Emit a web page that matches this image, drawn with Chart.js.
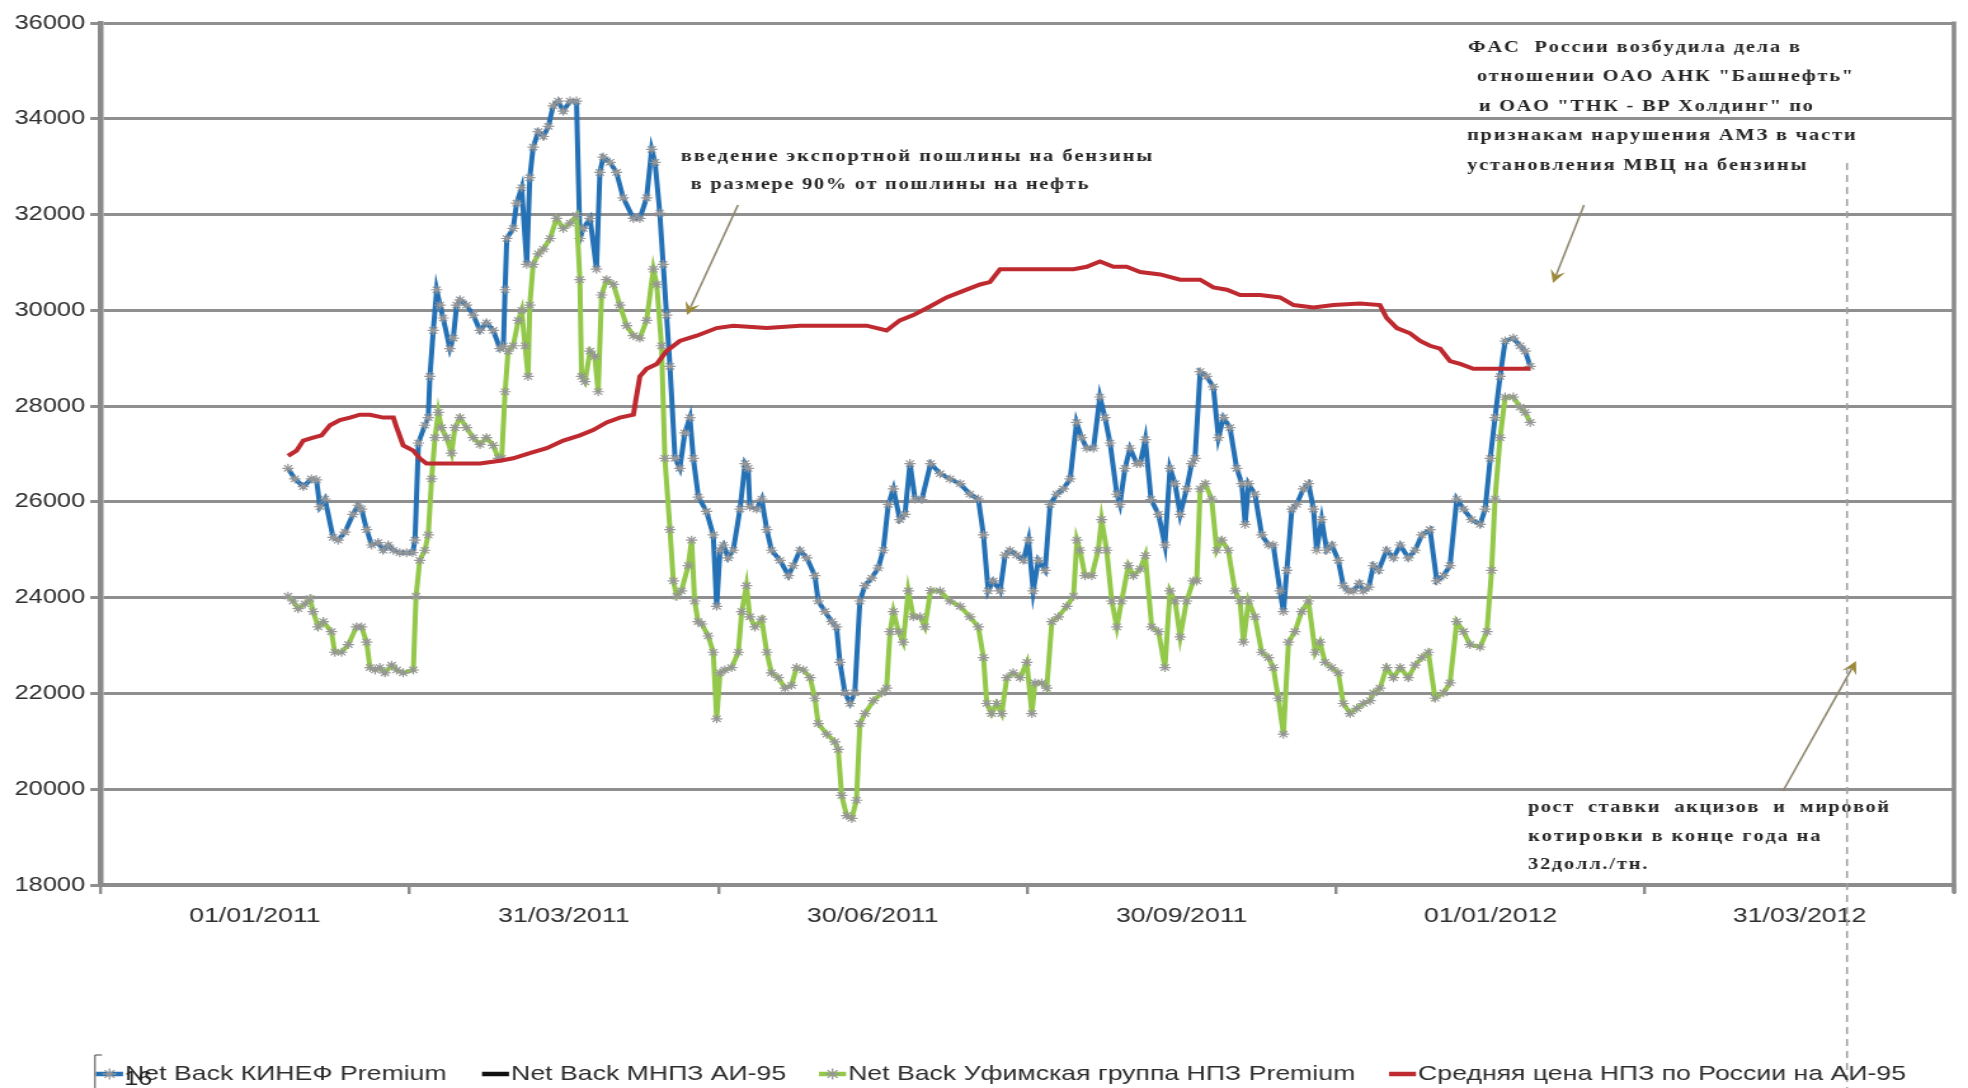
<!DOCTYPE html>
<html><head><meta charset="utf-8">
<script src="https://cdn.jsdelivr.net/npm/chart.js@4/dist/chart.umd.min.js"></script>
<style>html,body{margin:0;padding:0;background:#fff;overflow:hidden}</style>
</head><body>
<canvas id="c" width="1550" height="1088" style="display:block;width:1968px;height:1088px"></canvas>
<script>
// ---------- data ----------
const xLabels = ['01/01/2011','31/03/2011','30/06/2011','30/09/2011','01/01/2012','31/03/2012'];
const seriesNames = ['Net Back КИНЕФ Premium','Net Back МНПЗ АИ-95','Net Back Уфимская группа НПЗ Premium','Средняя цена НПЗ по России на АИ-95'];
const yMin = 18000, yMax = 36000, yStep = 2000;
// x = days since 01/01/2011
const kinefDays = [9.8,11.8,14.3,16.7,18.2,19.2,20.7,23.1,24.6,26.6,29.0,30.5,31.5,33.0,34.5,36.4,37.9,39.4,40.9,42.8,44.8,46.6,47.3,48.3,50.2,51.2,51.7,52.7,53.7,54.7,55.6,57.6,58.6,59.6,60.6,62.5,64.5,66.5,68.4,70.4,72.4,73.4,73.9,74.4,76.3,77.3,78.8,80.3,81.2,82.2,83.7,85.2,86.7,88.1,89.6,91.1,93.1,95.0,96.0,97.0,99.0,100.9,101.9,102.9,104.9,106.8,108.8,111.8,113.7,115.7,117.2,118.2,119.6,120.6,121.6,122.6,124.1,125.5,127.0,128.5,129.5,131.0,133.4,135.4,136.4,137.4,138.4,139.8,141.3,143.3,144.8,145.7,146.2,148.2,149.7,151.2,152.6,155.1,157.6,159.0,161.0,163.0,165.4,166.4,168.4,170.4,171.8,172.8,174.3,175.8,177.2,178.7,180.2,182.2,184.1,185.6,187.1,188.6,190.5,192.0,193.5,195.0,197.0,199.6,202.4,205.3,208.3,211.2,213.7,215.2,216.6,218.1,220.1,221.6,223.0,225.0,227.0,228.5,229.9,231.4,233.4,234.9,236.8,238.8,240.8,242.7,244.2,245.7,247.7,249.6,251.1,252.6,254.6,255.5,257.0,258.5,260.5,261.5,263.0,264.7,266.9,268.8,270.3,271.8,273.3,275.2,276.7,277.7,279.2,281.1,283.1,284.6,286.1,288.0,290.0,291.5,292.5,293.5,295.4,297.4,299.4,300.8,302.8,303.8,304.8,306.3,307.7,309.7,311.2,312.7,313.6,315.1,316.6,318.1,320.0,321.5,323.0,324.5,326.2,327.4,329.0,330.4,331.9,334.3,336.3,338.3,340.7,342.7,344.7,347.1,349.1,351.1,353.0,355.0,357.0,359.4,361.9,363.4,364.9,366.3,367.8,369.3,371.7,373.7,375.2,376.7];
const kinefValues = [26700,26480,26320,26480,26460,25900,26060,25260,25200,25370,25740,25930,25850,25420,25100,25150,24990,25100,24990,24940,24940,24940,25200,27230,27600,27760,28620,29580,30430,30110,29840,29200,29420,30110,30220,30110,29900,29580,29740,29580,29200,29250,30430,31500,31710,32240,32560,30960,32770,33410,33730,33630,33840,34270,34370,34160,34370,34370,31500,31710,31920,30860,32880,33200,33090,32880,32350,31920,31920,32350,33360,33090,32030,30960,29900,28830,26910,26700,27440,27760,26910,26100,25800,25310,23820,24990,25100,24830,24990,25850,26800,26700,25900,25850,26060,25420,24990,24780,24460,24670,24990,24830,24460,23930,23710,23500,23390,22650,22010,21790,22010,23930,24250,24410,24620,24990,25950,26270,25630,25740,26800,26060,26050,26800,26590,26480,26380,26160,26060,25310,24140,24350,24140,24890,24990,24890,24780,25200,24140,24780,24570,25950,26160,26270,26480,27660,27340,27120,27120,28190,27760,27230,26160,25950,26700,27120,26800,26800,27300,26050,25740,25100,26700,26380,25740,26270,26800,26910,28720,28620,28400,27340,27760,27550,26700,26380,25530,26380,26160,25310,25100,25100,24140,23710,24570,25850,25950,26270,26380,25850,24990,25630,24990,25100,24780,24250,24140,24140,24300,24140,24220,24670,24570,24990,24830,25100,24830,24990,25310,25420,24350,24460,24670,26060,25850,25630,25530,25850,26910,27760,28620,29360,29420,29260,29150,28830];
const mnpzDays = [];
const mnpzValues = [];
const ufaDays = [9.8,11.3,12.8,14.8,16.3,17.2,18.7,20.2,22.6,23.6,25.6,27.6,30.0,31.5,33.0,34.0,35.5,36.9,38.4,40.4,41.9,43.8,46.8,47.6,48.7,50.2,51.2,52.2,53.2,54.2,55.1,56.6,58.1,59.1,60.6,62.5,64.5,66.5,68.4,70.4,71.9,72.9,73.9,74.8,76.3,77.8,78.8,79.8,80.7,81.2,82.2,83.7,85.2,87.2,89.1,91.1,93.1,95.0,96.0,96.5,97.5,99.0,100.4,101.4,102.4,103.9,105.9,107.8,109.8,111.8,113.7,115.7,117.7,118.7,120.1,121.1,122.6,123.6,124.6,126.0,128.0,129.0,129.9,130.9,132.0,133.9,135.4,136.4,137.4,138.8,140.8,142.8,143.8,145.2,146.2,147.7,149.7,151.2,152.6,154.6,156.6,158.5,160.0,162.0,164.0,165.4,166.4,168.9,171.3,172.3,173.3,174.8,176.3,177.7,178.7,180.2,182.7,185.1,186.6,187.6,188.6,190.1,191.5,193.0,194.5,196.5,197.9,199.6,202.4,205.3,208.3,211.2,213.7,215.2,216.2,217.6,219.1,220.6,222.1,224.0,226.0,228.0,229.5,230.4,232.4,233.9,235.4,237.3,239.8,241.8,242.8,243.7,245.2,247.2,249.1,250.1,251.6,253.1,254.6,256.0,258.0,259.5,261.5,263.0,264.9,266.9,268.8,270.3,271.8,273.3,275.2,277.2,278.2,279.2,280.7,282.6,284.1,285.6,287.5,289.5,291.0,292.0,293.5,295.4,297.4,299.4,300.8,302.3,303.8,305.3,307.2,309.2,311.2,313.2,314.6,316.1,318.1,320.0,321.5,323.5,325.5,327.4,329.4,330.4,332.3,334.3,336.3,338.3,340.7,342.7,344.7,346.6,348.6,351.1,353.0,355.0,357.0,358.9,361.9,363.9,365.3,366.3,367.8,369.3,371.7,373.7,375.2,376.7];
const ufaValues = [24030,23930,23770,23870,23980,23710,23390,23500,23290,22860,22860,23020,23390,23390,23070,22540,22490,22540,22430,22590,22490,22430,22490,24030,24780,24990,25310,26480,27340,27870,27550,27340,27020,27550,27760,27550,27340,27200,27340,27180,26910,26910,28300,29150,29260,29790,30000,29260,28620,30110,30960,31180,31280,31500,31920,31710,31820,31980,30640,28620,28510,29150,29040,28300,30320,30640,30540,30110,29680,29470,29420,29790,30860,30540,29260,26910,25420,24350,24030,24140,24670,25200,23930,23500,23450,23200,22860,21470,22430,22490,22540,22860,23710,24250,23600,23390,23550,22860,22430,22330,22110,22170,22540,22490,22330,21900,21370,21150,20990,20830,19870,19450,19390,19770,21370,21580,21850,22010,22110,23290,23710,23290,23070,24140,23600,23600,23390,24150,24140,23930,23820,23600,23390,22750,21790,21580,21790,21580,22330,22430,22330,22650,21580,22220,22220,22110,23500,23600,23820,24030,25200,24990,24460,24460,24990,25630,24990,23930,23390,23930,24670,24460,24600,24880,23390,23290,22540,24140,23930,23180,23930,24350,24350,26270,26380,26060,24990,25200,24990,24140,23930,23070,23930,23600,22860,22750,22540,21900,21150,23070,23290,23710,23930,22860,23070,22650,22540,22430,21790,21580,21690,21790,21850,22010,22110,22540,22330,22540,22330,22590,22750,22860,21900,22010,22220,23500,23290,23020,22970,23290,24570,26060,27340,28190,28190,27980,27870,27660];
const avgDays = [9.8,12.3,14.3,17.2,19.7,22.2,25.1,28.1,31.0,34.0,37.9,40.9,41.9,43.8,46.8,48.7,50.7,54.7,60.6,66.5,72.4,76.3,81.2,86.2,91.1,96.0,99.9,103.9,107.8,111.8,113.7,115.7,118.7,121.6,125.5,130.5,136.4,141.3,151.2,161.0,170.8,180.7,186.6,190.5,194.5,199.4,204.3,208.3,214.2,217.1,220.1,226.0,233.9,241.8,245.7,249.6,253.6,257.5,261.5,267.4,273.3,279.2,283.1,287.1,291.0,296.9,302.8,306.8,312.7,318.6,326.4,332.3,334.3,337.3,341.2,344.2,347.1,350.1,353.0,356.0,359.9,367.8,376.7];
const avgValues = [26960,27070,27280,27340,27390,27600,27710,27760,27820,27820,27760,27760,27550,27180,27070,26910,26800,26800,26800,26800,26860,26910,27020,27120,27280,27390,27500,27660,27760,27820,28620,28780,28880,29150,29360,29470,29630,29680,29630,29680,29680,29680,29580,29790,29900,30080,30270,30380,30540,30590,30860,30860,30860,30860,30910,31020,30910,30910,30800,30750,30640,30640,30480,30430,30320,30320,30270,30110,30060,30110,30140,30110,29840,29630,29520,29360,29260,29200,28940,28880,28780,28780,28780];

// ---------- annotation texts ----------
const noteDuty = ['введение экспортной пошлины на бензины', ' в размере 90% от пошлины на нефть'];
const noteFas = ['ФАС  России возбудила дела в', ' отношении ОАО АНК "Башнефть"', ' и ОАО "ТНК - ВР Холдинг" по', 'признакам нарушения АМЗ в части', 'установления МВЦ на бензины'];
const noteExcise = ['рост  ставки  акцизов  и  мировой', 'котировки в конце года на', '32долл./тн.'];
const pageNumber = '16';

// ---------- layout (full-picture pixels; canvas is stretched horizontally) ----------
const CW = 1550, S = 1968 / CW;
const fx = v => v / S;
const noteLayout = [
  {lines: noteDuty, x: [681, 684], y: [157, 185], w: [470, 404]},
  {lines: noteFas, x: [1468, 1470, 1472, 1467, 1467], y: [48, 77, 107, 136, 166], w: [327, 381, 338, 388, 338]},
  {lines: noteExcise, x: [1528, 1528, 1528], y: [808, 837, 865], w: [360, 290, 119]}
];
const arrows = [
  {from: [738, 205], to: [687, 315]},
  {from: [1584, 205], to: [1553, 283]},
  {from: [1783, 791], to: [1856, 661]}
];
const legendTextStarts = [125, 511, 848, 1418];

function drawSpaced(ctx, text, x, y, w) {
  const chars = Array.from(text);
  const natural = ctx.measureText(text).width;
  const extra = chars.length > 1 ? (w - natural) / (chars.length - 1) : 0;
  let cx = x;
  for (const ch of chars) {
    ctx.fillText(ch, cx, y);
    cx += ctx.measureText(ch).width + extra;
  }
}
function drawStar(ctx, x, y, r) {
  ctx.beginPath();
  ctx.moveTo(x - r, y); ctx.lineTo(x + r, y);
  ctx.moveTo(x, y - r); ctx.lineTo(x, y + r);
  const d = r * 0.707;
  ctx.moveTo(x - d, y - d); ctx.lineTo(x + d, y + d);
  ctx.moveTo(x - d, y + d); ctx.lineTo(x + d, y - d);
  ctx.stroke();
}

const extras = {
  id: 'extras',
  beforeDraw(chart) {
    const ctx = chart.ctx;
    ctx.save();
    ctx.fillStyle = '#ffffff';
    ctx.fillRect(0, 0, chart.width, chart.height);
    ctx.fillStyle = '#262626';
    ctx.font = 'bold 16px "Liberation Serif", "Times New Roman", serif';
    ctx.textBaseline = 'middle';
    ctx.textAlign = 'left';
    for (const n of noteLayout) {
      n.lines.forEach((t, i) => drawSpaced(ctx, t, fx(n.x[i]), n.y[i], fx(n.w[i])));
    }
    ctx.restore();
  },
  beforeDatasetsDraw(chart) {
    const {ctx, chartArea: a} = chart;
    ctx.save();
    ctx.strokeStyle = '#8c8c8c';
    ctx.lineWidth = 3.6;
    ctx.beginPath();
    ctx.moveTo(a.right, a.top - 1.5);
    ctx.lineTo(a.right, a.bottom + 8);
    ctx.stroke();
    ctx.restore();
  },
  afterDraw(chart) {
    const ctx = chart.ctx;
    ctx.save();
    // arrows
    for (const ar of arrows) {
      const x1 = fx(ar.from[0]), y1 = ar.from[1], x2 = fx(ar.to[0]), y2 = ar.to[1];
      const ang = Math.atan2(y2 - y1, x2 - x1);
      ctx.strokeStyle = '#8e8870';
      ctx.lineWidth = 1.6;
      ctx.beginPath();
      ctx.moveTo(x1, y1);
      ctx.lineTo(x2 - Math.cos(ang) * 8, y2 - Math.sin(ang) * 8);
      ctx.stroke();
      const L = 13, W = 6;
      ctx.fillStyle = '#9c8a3a';
      ctx.beginPath();
      ctx.moveTo(x2, y2);
      ctx.lineTo(x2 - Math.cos(ang) * L - Math.sin(ang) * W, y2 - Math.sin(ang) * L + Math.cos(ang) * W);
      ctx.lineTo(x2 - Math.cos(ang) * L * 0.6, y2 - Math.sin(ang) * L * 0.6);
      ctx.lineTo(x2 - Math.cos(ang) * L + Math.sin(ang) * W, y2 - Math.sin(ang) * L - Math.cos(ang) * W);
      ctx.closePath();
      ctx.fill();
    }
    // dashed vertical line
    ctx.strokeStyle = '#a0a0a0';
    ctx.lineWidth = 1.6;
    ctx.setLineDash([7, 5]);
    ctx.beginPath();
    ctx.moveTo(fx(1847), 163);
    ctx.lineTo(fx(1847), 1088);
    ctx.stroke();
    ctx.setLineDash([]);
    // legend
    const ly = 1074;
    ctx.font = '21px "Liberation Sans", Arial, sans-serif';
    ctx.textBaseline = 'middle';
    ctx.textAlign = 'left';
    chart.data.datasets.forEach((ds, i) => {
      const tx = fx(legendTextStarts[i]);
      const x0 = tx - fx(29), x1 = tx - fx(2);
      ctx.strokeStyle = ds.borderColor;
      ctx.lineWidth = 4.5;
      ctx.beginPath();
      ctx.moveTo(x0, ly);
      ctx.lineTo(x1, ly);
      ctx.stroke();
      if (ds.pointRadius > 0) {
        ctx.strokeStyle = ds.pointBorderColor;
        ctx.lineWidth = 1.3;
        drawStar(ctx, (x0 + x1) / 2, ly, 5.5);
      }
      ctx.fillStyle = '#2e2e2e';
      ctx.fillText(ds.label, tx, ly);
    });
    // page number
    ctx.fillStyle = '#222';
    ctx.font = '20px "Liberation Sans", Arial, sans-serif';
    ctx.textBaseline = 'top';
    ctx.fillText(pageNumber, fx(124), 1069);
    ctx.strokeStyle = '#444';
    ctx.lineWidth = 1;
    ctx.beginPath();
    ctx.moveTo(fx(95), 1088); ctx.lineTo(fx(95), 1055); ctx.lineTo(fx(102), 1055);
    ctx.stroke();
    ctx.restore();
  }
};

const pts = (d, v) => d.map((x, i) => ({x, y: v[i]}));
const seriesColors = ['#2471b5', '#111111', '#93c84a', '#be2a2f'];
const lineDs = (i, days, vals, markers) => ({
  label: seriesNames[i],
  data: pts(days, vals),
  xAxisID: 'x', yAxisID: 'y',
  borderColor: seriesColors[i],
  backgroundColor: seriesColors[i],
  borderWidth: 4,
  tension: 0,
  pointStyle: 'star',
  pointRadius: markers ? 4.5 : 0,
  pointBorderColor: '#969696',
  pointBorderWidth: 1.2,
  pointHoverRadius: 0,
  order: 3 - i
});

new Chart(document.getElementById('c'), {
  type: 'line',
  data: {
    datasets: [
      lineDs(0, kinefDays, kinefValues, true),
      lineDs(1, mnpzDays, mnpzValues, false),
      lineDs(2, ufaDays, ufaValues, true),
      lineDs(3, avgDays, avgValues, false)
    ]
  },
  options: {
    responsive: false,
    animation: false,
    devicePixelRatio: 1,
    events: [],
    layout: {padding: {top: 23, right: CW - fx(1954), bottom: 0, left: 0}},
    plugins: {legend: {display: false}, tooltip: {enabled: false}},
    scales: {
      x: {type: 'linear', display: false, min: -45.625, max: 501.875},
      xCat: {
        type: 'category', labels: xLabels, position: 'bottom', offset: true,
        grid: {offset: true, drawOnChartArea: false, drawTicks: true, tickLength: 9, color: '#8c8c8c', lineWidth: 2.4},
        border: {display: true, color: '#8c8c8c', width: 4},
        ticks: {font: {family: '"Liberation Sans", Arial, sans-serif', size: 21}, color: '#2e2e2e', padding: 10, maxRotation: 0, autoSkip: false},
        afterFit(s) { s.height = 1088 - 885; }
      },
      y: {
        min: yMin, max: yMax,
        ticks: {stepSize: yStep, callback: v => String(v), font: {family: '"Liberation Sans", Arial, sans-serif', size: 20}, color: '#2e2e2e', padding: 4},
        grid: {color: '#8f8f8f', lineWidth: 3, tickLength: 8, drawTicks: true},
        border: {display: true, color: '#8a8a8a', width: 4.5},
        afterFit(s) { s.width = fx(100.4); }
      }
    }
  },
  plugins: [extras]
});
</script>
</body></html>
